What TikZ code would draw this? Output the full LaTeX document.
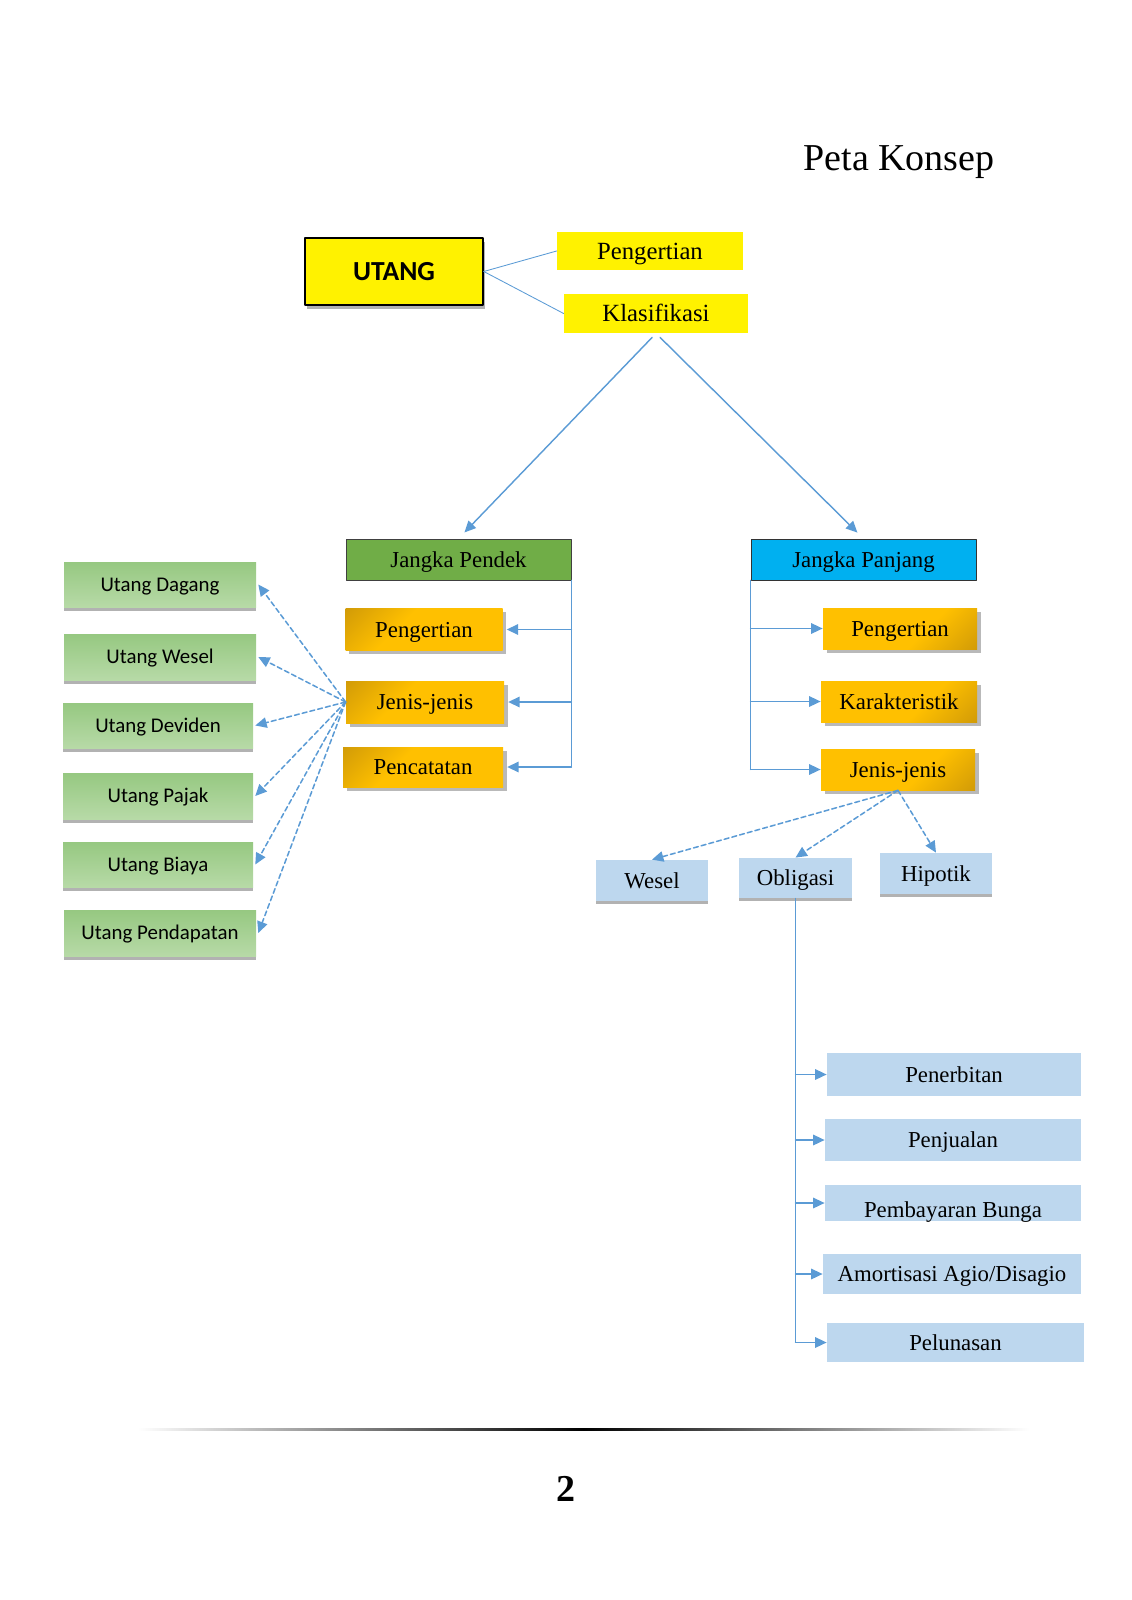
\documentclass[tikz,border=0pt]{standalone}
\usepackage{fontspec}
\setmainfont{Liberation Serif}
\newfontfamily\calib{Carlito}
\usetikzlibrary{arrows.meta,shadows}
\definecolor{lnblue}{HTML}{5B9BD5}
\definecolor{ambr}{HTML}{FFC000}
\definecolor{ambrdk}{HTML}{B8860B}
\definecolor{grnA}{HTML}{96C881}
\definecolor{grnB}{HTML}{B7DAA7}
\definecolor{grnhd}{HTML}{70AD47}
\definecolor{cyanhd}{HTML}{00B0F0}
\definecolor{blbox}{HTML}{BDD7EE}
\pgfdeclareverticalshading{ambrsh}{100bp}{color(0bp)=(ambr); color(60bp)=(ambr); color(100bp)=(ambrdk)}
\begin{document}
\begin{tikzpicture}[x=0.5262pt,y=-0.5262pt,line join=round,line cap=round,>={Triangle[length=6pt,width=5.5pt]},
  lnk/.style={draw=lnblue,line width=0.75pt},
  dsh/.style={lnk,line width=0.8pt,dash pattern=on 2.6pt off 1.6pt},
  txt/.style={inner sep=0pt,text height=7.9pt,text depth=0pt,font=\fontsize{12}{14}\selectfont},
  ybox/.style={txt,fill=yellow,text height=8.6pt,font=\fontsize{13}{15}\selectfont},
  obox/.style={txt,shade,shading=ambrsh,minimum height=41*\px,
    drop shadow={shadow xshift=2pt,shadow yshift=-2pt,fill=gray!55,opacity=1}},
  gbox/.style={txt,top color=grnA,bottom color=grnB,minimum width=190*\px,minimum height=46*\px,text height=7.1pt,
    font=\calib\fontsize{11}{13}\selectfont,drop shadow={shadow xshift=0pt,shadow yshift=-2pt,fill=gray!60,opacity=1}},
  bbox/.style={txt,fill=blbox}]
\def\px{0.5262pt}
\useasboundingbox (0,0) rectangle (1131,1600);
\node[anchor=base] (judul) at (899,171) {\fontsize{20}{24}\selectfont Peta Konsep};
% puncak
\node[txt,fill=yellow,draw=black,line width=0.8pt,minimum width=178*\px,minimum height=67*\px,text height=9.3pt,
  font=\calib\bfseries\fontsize{14.5}{17}\selectfont,
  drop shadow={shadow xshift=1pt,shadow yshift=-2pt,fill=gray!60,opacity=1}] (utang) at (394,271.5) {UTANG};
\node[ybox,minimum width=186*\px,minimum height=38*\px] (pg0) at (650,251) {Pengertian};
\node[ybox,minimum width=184*\px,minimum height=39*\px] (klas) at (656,313.5) {Klasifikasi};
\draw[lnk,line width=0.45pt] (utang.east) -- (pg0.west);
\draw[lnk,line width=0.45pt] (utang.east) -- (klas.west);
\node[txt,fill=grnhd,draw=black!75,minimum width=225*\px,minimum height=41*\px] (pendek) at (458.5,559.5) {Jangka Pendek};
\node[txt,fill=cyanhd,draw=black!80,minimum width=225*\px,minimum height=41*\px] (panjang) at (863.5,559.5) {Jangka Panjang};
\draw[lnk,->,shorten <=3pt,shorten >=4.5pt] (klas.south) -- (pendek.north);
\draw[lnk,->,shorten <=3pt,shorten >=4.5pt] (klas.south) -- (panjang.north);
% jangka pendek
\node[obox,shading angle=45,minimum width=157*\px,minimum height=42*\px] (pdefA) at (424,629.5) {Pengertian};
\node[obox,shading angle=45,minimum width=158*\px,minimum height=42*\px] (jenisA) at (425,702) {Jenis-jenis};
\node[obox,shading angle=45,minimum width=160*\px,minimum height=40*\px] (catat) at (423,767) {Pencatatan};
\draw[lnk] (pendek.south east) -- (pendek.south east |- catat);
\foreach \n in {pdefA,jenisA,catat}
  \draw[lnk,->] (pendek.south east |- \n) -- ([xshift=2pt]\n.east);
\node[gbox,minimum width=192*\px,minimum height=45*\px] (udag) at (160,584.5) {Utang Dagang};
\node[gbox,minimum width=192*\px] (uwes) at (160,657) {Utang Wesel};
\node[gbox,minimum height=45*\px] (udev) at (158,725.5) {Utang Deviden};
\node[gbox] (upaj) at (158,796) {Utang Pajak};
\node[gbox,minimum height=45*\px] (ubia) at (158,864.5) {Utang Biaya};
\node[gbox,minimum width=192*\px] (upen) at (160,933) {Utang Pendapatan};
\foreach \n in {udag,uwes,udev,upaj,ubia,upen}
  \draw[dsh,->] (jenisA.west) -- ([xshift=1pt]\n.east);
% jangka panjang
\node[obox,shading angle=225,minimum width=154*\px] (pdefB) at (900,628.5) {Pengertian};
\node[obox,shading angle=225,minimum width=156*\px] (karak) at (899,701.5) {Karakteristik};
\node[obox,shading angle=225,minimum width=154*\px] (jenisB) at (898,769.5) {Jenis-jenis};
\draw[lnk] (panjang.south west) -- (panjang.south west |- jenisB);
\foreach \n in {pdefB,karak,jenisB}
  \draw[lnk,->] (panjang.south west |- \n) -- (\n.west);
\node[bbox,minimum width=112*\px,minimum height=41*\px,
  drop shadow={shadow xshift=0pt,shadow yshift=-1.5pt,fill=gray!60,opacity=1}] (wesel) at (652,880.5) {Wesel};
\node[bbox,minimum width=113*\px,minimum height=40*\px,
  drop shadow={shadow xshift=0pt,shadow yshift=-1.5pt,fill=gray!60,opacity=1}] (obl) at (795.5,878) {Obligasi};
\node[bbox,minimum width=112*\px,minimum height=41*\px,
  drop shadow={shadow xshift=0pt,shadow yshift=-1.5pt,fill=gray!60,opacity=1}] (hip) at (936,873.5) {Hipotik};
\foreach \n in {wesel,obl,hip}
  \draw[dsh,->] (jenisB.south) -- (\n.north);
% obligasi
\node[bbox,minimum width=254*\px,minimum height=43*\px] (terbit) at (954,1074.5) {Penerbitan};
\node[bbox,minimum width=256*\px,minimum height=42*\px] (jual) at (953,1140) {Penjualan};
\node[bbox,minimum width=256*\px,minimum height=36*\px] (bunga) at (953,1203) {};
\begin{scope}
\clip (bunga.south west) rectangle (bunga.north east);
\node[anchor=base,font=\fontsize{12}{14}\selectfont] (bungatx) at (953,1217) {Pembayaran Bunga};
\end{scope}
\node[bbox,minimum width=258*\px,minimum height=40*\px] (amort) at (952,1274) {Amortisasi Agio/Disagio};
\node[bbox,minimum width=257*\px,minimum height=39*\px] (lunas) at (955.5,1342.5) {Pelunasan};
\draw[lnk,line width=0.5pt] (obl.south) -- (obl.south |- lunas);
\foreach \n in {terbit,jual,bunga,amort,lunas}
  \draw[lnk,->] (obl.south |- \n) -- (\n.west);
% kaki halaman
\shade[left color=white,right color=white,middle color=black] (138,1428) rectangle (1029,1430.5);
\node[anchor=base,font=\bfseries\fontsize{20}{24}\selectfont] (hal) at (566,1501) {2};
\end{tikzpicture}
\end{document}
